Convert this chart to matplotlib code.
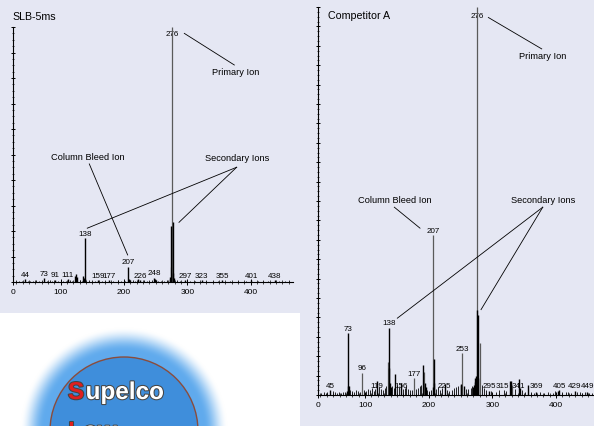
import numpy as np
import matplotlib.pyplot as plt
import matplotlib.patheffects as pe
from matplotlib.patches import Circle, Rectangle
from matplotlib.ticker import MultipleLocator

plt.rcParams['font.family'] = ['Liberation Sans', 'DejaVu Sans']

W, H = 594, 427
BG = '#e5e7f3'

# SLB-5ms spectrum (relative abundance, %)
slb_mz = [44, 73, 91, 111, 122, 124, 126, 136, 137, 138, 139, 159, 177, 207, 208, 209,
          222, 226, 248, 249, 250, 272, 273, 275, 277, 278, 279, 297, 323, 355, 401, 438]
slb_h = [1.0, 1.4, 0.9, 1.2, 2.2, 3.1, 1.8, 2.5, 1.5, 17.1, 1.2, 0.7, 0.7, 6.0, 1.0, 0.6,
         1.0, 0.7, 1.7, 1.2, 0.9, 1.2, 2.0, 21.8, 23.6, 3.5, 1.4, 0.6, 0.6, 0.8, 0.6, 0.6]
slb_gray_mz = [274, 276]
slb_gray_h = [5.8, 100]
slb_noise_mz = [30, 34, 39, 48, 52, 57, 61, 66, 70, 78,
                83, 86, 95, 100, 104, 108, 115, 118, 130, 133,
                145, 150, 155, 165, 170, 183, 190, 196, 201, 214,
                218, 231, 236, 240, 244, 254, 259, 264, 268, 284,
                288, 305, 312, 330, 340, 348, 368, 380, 392, 412,
                420, 428, 445, 455, 460]
slb_noise_h = [0.4, 0.3, 0.5, 0.4, 0.3, 0.5, 0.6, 0.4, 0.5, 0.4,
               0.6, 0.5, 0.4, 0.6, 0.5, 0.4, 0.6, 0.5, 0.7, 0.5,
               0.6, 0.5, 0.4, 0.5, 0.4, 0.5, 0.6, 0.4, 0.5, 0.6,
               0.5, 0.6, 0.4, 0.5, 0.6, 0.5, 0.4, 0.5, 0.7, 0.6,
               0.4, 0.5, 0.4, 0.5, 0.4, 0.5, 0.4, 0.4, 0.3, 0.4,
               0.4, 0.3, 0.4, 0.3, 0.3]
slb_labels = [44, 73, 91, 111, 138, 159, 177, 207, 226, 248, 297, 323, 355, 401, 438]

# Competitor A spectrum
comp_mz = [45, 72, 73, 74, 75, 119, 137, 138, 139, 140, 147, 156, 191, 194, 195, 206,
           208, 209, 225, 250, 251, 255, 270, 271, 272, 273, 274, 275, 277, 278, 295,
           327, 329, 341, 343, 356, 369, 403, 405, 429, 449]
comp_h = [1.4, 1.0, 15.9, 2.3, 2.3, 3.7, 7.0, 17.3, 3.0, 2.0, 5.3, 3.1, 7.7, 3.0, 2.0, 2.0,
          9.4, 3.0, 2.8, 2.5, 2.8, 2.2, 2.0, 2.5, 4.5, 3.4, 5.0, 21.9, 20.5, 4.5, 1.0,
          3.7, 3.5, 4.1, 1.8, 2.6, 0.8, 1.0, 1.2, 1.0, 0.7]
comp_gray_mz = [96, 136, 177, 193, 207, 253, 276, 280, 331]
comp_gray_h = [5.7, 8.6, 4.3, 5.8, 41.2, 10.7, 100, 13.3, 2.5]
comp_noise_mz = [31, 35, 38, 41, 50, 53, 56, 59, 62, 66,
                 69, 77, 80, 83, 86, 89, 92, 99, 102, 105,
                 108, 111, 114, 116, 122, 125, 128, 131, 133, 142,
                 145, 150, 153, 159, 162, 165, 168, 171, 174, 180,
                 183, 186, 188, 198, 201, 204, 212, 215, 218, 221,
                 228, 232, 236, 240, 243, 246, 258, 262, 266, 268,
                 283, 286, 290, 298, 305, 310, 318, 322, 335, 347,
                 351, 361, 365, 375, 381, 388, 395, 399, 410, 415,
                 419, 423, 433, 437, 441, 445, 452, 456, 460, 464]
comp_noise_h = [0.6, 0.8, 0.5, 0.9, 1.0, 0.7, 0.6, 0.8, 0.5, 0.9,
                0.7, 1.2, 1.0, 0.8, 1.3, 1.1, 0.9, 1.4, 1.0, 1.6,
                1.2, 1.8, 1.0, 1.5, 2.0, 1.6, 1.3, 1.8, 2.4, 2.2,
                1.8, 2.6, 2.0, 1.5, 1.8, 2.3, 1.6, 1.2, 1.4, 1.5,
                1.8, 2.2, 2.6, 1.4, 1.0, 1.2, 1.6, 2.0, 1.2, 1.8,
                1.4, 1.0, 1.3, 1.8, 2.0, 2.4, 1.6, 1.5, 1.8, 2.2,
                2.5, 1.8, 1.2, 1.0, 0.8, 1.2, 1.4, 1.0, 1.6, 1.2,
                0.8, 0.7, 0.6, 0.8, 0.6, 0.9, 0.6, 1.0, 0.8, 0.7,
                0.9, 0.6, 0.8, 0.7, 0.6, 0.7, 0.6, 0.5, 0.6, 0.5]
comp_labels = [45, 73, 96, 119, 138, 156, 177, 207, 225, 253, 295, 315, 341, 369, 405, 429, 449]


def px_box(l, t, r, b):
    return [l / W, 1 - b / H, (r - l) / W, (b - t) / H]


def setup(ax, lo, hi, ymaj, ymin):
    ax.set_facecolor('none')
    ax.set_xlim(lo, hi)
    ax.set_ylim(0, 100)
    for s in ['top', 'right']:
        ax.spines[s].set_visible(False)
    for s in ['left', 'bottom']:
        ax.spines[s].set_linewidth(0.8)
    ax.set_xticks([lo, 100, 200, 300, 400])
    ax.set_xticklabels(['0', '100', '200', '300', '400'])
    ax.xaxis.set_minor_locator(MultipleLocator(10))
    ax.set_yticks(np.arange(0, 101, ymaj))
    ax.yaxis.set_minor_locator(MultipleLocator(ymin))
    ax.tick_params(axis='x', which='major', direction='inout', length=4, width=0.7,
                   labelsize=6, pad=2.5)
    ax.tick_params(axis='x', which='minor', direction='inout', length=2.5, width=0.5)
    ax.tick_params(axis='y', which='major', direction='inout', length=3, width=0.7,
                   labelleft=False)
    ax.tick_params(axis='y', which='minor', direction='inout', length=1.8, width=0.5)


def spectrum(ax, mz, h, gmz, gh, nmz, nh, labels, thresh, floor, top_y):
    ax.vlines(nmz, 0, nh, colors='black', linewidth=0.6, zorder=2)
    ax.vlines(gmz, 0, gh, colors='#5a5a5a', linewidth=0.9, zorder=2)
    ax.vlines(mz, 0, h, colors='black', linewidth=1.0, zorder=2)
    heights = dict(zip(mz, h))
    heights.update(dict(zip(gmz, gh)))
    for m in labels:
        v = heights.get(m, 0)
        y = v if v > thresh else floor
        ax.annotate(str(m), (m, y), xytext=(0, 1), textcoords='offset points',
                    ha='center', va='bottom', fontsize=5.8, zorder=1)
    ax.text(276, top_y, '276', ha='center', va='center', fontsize=5.8, zorder=1)


def callout(ax, text, tx, ty, segs):
    ax.text(tx, ty, text, ha='center', va='center', fontsize=6.7)
    for (x1, y1, x2, y2) in segs:
        ax.plot([x1, x2], [y1, y2], color='black', lw=0.6, clip_on=False)


fig = plt.figure(figsize=(W / 100, H / 100), dpi=100, facecolor=BG)

ax1 = fig.add_axes(px_box(13.2, 28, 293, 283))
setup(ax1, 25, 467, 10, 2.5)
spectrum(ax1, slb_mz, slb_h, slb_gray_mz, slb_gray_h, slb_noise_mz, slb_noise_h,
         slb_labels, 0, 0, 97.6)
callout(ax1, 'Primary Ion', 376.5, 82.5, [(295.3, 97.5, 374.3, 85.1)])
callout(ax1, 'Column Bleed Ion', 143.6, 49.3, [(145.2, 46.3, 205.8, 10.6)])
callout(ax1, 'Secondary Ions', 379.6, 48.9, [(378, 45, 142, 21.1), (378, 45, 286.9, 23.4)])
fig.text(12 / W, 1 - 17.3 / H, 'SLB-5ms', fontsize=7.7, ha='left', va='center')

ax2 = fig.add_axes(px_box(317.9, 8, 598.8, 396))
setup(ax2, 26, 467, 5, 1.25)
spectrum(ax2, comp_mz, comp_h, comp_gray_mz, comp_gray_h, comp_noise_mz, comp_noise_h,
         comp_labels, 4.2, 1.2, 97.9)
callout(ax2, 'Primary Ion', 378.3, 87.6, [(293.6, 97.3, 377.4, 89.2)])
callout(ax2, 'Column Bleed Ion', 146, 50.3, [(146, 48.4, 186.3, 43.0)])
callout(ax2, 'Secondary Ions', 380, 50.3, [(379, 48.4, 150.7, 19.8), (379, 48.4, 282.1, 22.0)])
fig.text(328.3 / W, 1 - 16 / H, 'Competitor A', fontsize=7.7, ha='left', va='center')

# logo panel, bottom left
axl = fig.add_axes(px_box(0, 314, 300, 427))
axl.set_xlim(0, 300)
axl.set_ylim(427, 314)
axl.axis('off')
axl.add_patch(Rectangle((0, 314), 300, 113, facecolor='white', edgecolor='none'))
xx, yy = np.meshgrid(np.arange(0, 300) + 0.5, np.arange(314, 427) + 0.5)
r = np.hypot(xx - 124, yy - 432)
inner = np.array([0.25, 0.56, 0.86])
outer = np.array([0.38, 0.67, 0.93])
t = np.clip((r - 80) / 24, 0, 1)
fade = t * t * (3 - 2 * t)
img = np.ones(r.shape + (3,))
mix = np.where((r < 74)[..., None], inner, outer)
img = mix * (1 - fade[..., None]) + fade[..., None] * 1.0
axl.imshow(img, extent=(0, 300, 427, 314), origin='upper', interpolation='bilinear', zorder=1)
axl.add_patch(Circle((124, 432), 74, facecolor='none', edgecolor='#8a4c3c', lw=1.0, zorder=2))
stroke = [pe.withStroke(linewidth=1.5, foreground='#444444')]
axl.text(68, 400, 'S', color='#e01e1e', fontsize=17.5, fontweight='bold',
         ha='left', va='baseline', zorder=3, path_effects=stroke)
axl.text(85.6, 400, 'upelco', color='white', fontsize=17.5, fontweight='bold',
         ha='left', va='baseline', zorder=3, path_effects=stroke)
axl.text(68, 421.5, 'L', color='#e01e1e', fontsize=17.5, fontweight='bold',
         ha='left', va='top', zorder=3, path_effects=stroke)
axl.text(83, 421.5, 'ow', color='white', fontsize=17.5, fontweight='bold',
         ha='left', va='top', zorder=3, path_effects=stroke)

fig.savefig('out.png', dpi=100, facecolor=BG)
